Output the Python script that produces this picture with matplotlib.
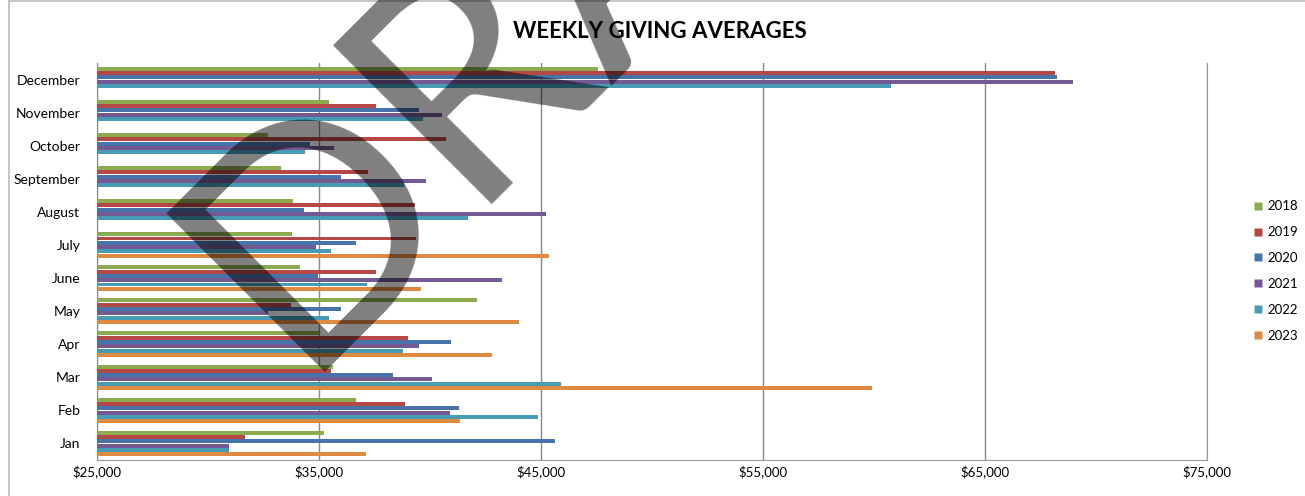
import numpy as np
import matplotlib
matplotlib.use("Agg")
import matplotlib.pyplot as plt
from matplotlib.ticker import FuncFormatter
from matplotlib.lines import Line2D

plt.rcParams['font.family'] = ['Lato', 'DejaVu Sans']

months = ["Jan", "Feb", "Mar", "Apr", "May", "June", "July",
          "August", "September", "October", "November", "December"]
years = ["2018", "2019", "2020", "2021", "2022", "2023"]
nan = np.nan

v2018 = [35210, 36680, 35650, 35000, 42120, 34160, 33770, 33840, 33280, 32720, 35470, 47580]
v2019 = [31650, 38890, 35540, 39000, 33730, 37560, 39390, 39320, 37220, 40740, 37560, 68160]
v2020 = [45640, 41300, 38350, 40940, 35970, 34940, 36660, 34330, 35970, 34590, 39520, 68240]
v2021 = [30930, 40890, 40100, 39490, 32700, 43240, 34850, 45220, 39820, 35670, 40550, 68970]
v2022 = [30940, 44870, 45920, 38790, 35470, 37150, 35520, 41730, 38830, 34380, 39670, 60770]
v2023 = [37130, 41340, 59900, 42810, 44030, 39600, 45340, nan, nan, nan, nan, nan]

xticks = [25000, 35000, 45000, 55000, 65000, 75000]
colors = ['#8CAA50', '#B54845', '#4673AA', '#735A93', '#469CB5', '#DF8A41']

W, H = 1305, 496
fig = plt.figure(figsize=(W / 100, H / 100), dpi=100)
ax = fig.add_axes([97 / W, 1 - 460 / H, (1207 - 97) / W, (460 - 63) / H])

y = np.arange(len(months))
slot = 0.13
series = [v2018, v2019, v2020, v2021, v2022, v2023]
for i, (vals, col, yr) in enumerate(zip(series, colors, years)):
    vals = np.array(vals, dtype=float)
    off = (2.5 - i) * slot
    ax.barh(y + off, vals - 25000, left=25000, height=slot * 0.92,
            color=col, label=yr, zorder=3)

ax.set_xlim(25000, 75000)
ax.set_ylim(-0.5, len(months) - 0.5)
ax.set_xticks(xticks)
ax.xaxis.set_major_formatter(FuncFormatter(lambda v, p: f"${v:,.0f}"))
ax.set_yticks(y)
ax.set_yticklabels(months)
ax.tick_params(axis='y', length=0, pad=12, labelsize=10)
ax.tick_params(axis='x', length=0, pad=4, labelsize=9.5)
ax.grid(axis='x', color='#888888', linewidth=1, zorder=0)
ax.spines['top'].set_visible(False)
ax.spines['right'].set_color('#999999')
ax.spines['bottom'].set_color('#999999')
ax.spines['left'].set_color('#888888')

fig.text(660 / W, 1 - 31 / H, "WEEKLY GIVING AVERAGES", ha='center', va='center',
         fontsize=16, fontweight='bold')

handles = [Line2D([0], [0], marker='s', linestyle='none', markersize=6,
                  markerfacecolor=c, markeredgecolor='none') for c in colors]
fig.legend(handles, years, loc='center left', bbox_to_anchor=(1253 / W, 1 - 271 / H),
           frameon=False, fontsize=9.5, handlelength=0.8, handletextpad=0.3,
           labelspacing=1.05, borderpad=0, borderaxespad=0)

# chart area border
fig.add_artist(Line2D([9 / W, 9 / W], [0, 1 - 1 / H], transform=fig.transFigure,
                      color='#BBBBBB', linewidth=1.2))
fig.add_artist(Line2D([9 / W, 1], [1 - 1 / H, 1 - 1 / H], transform=fig.transFigure,
                      color='#BBBBBB', linewidth=1.2))

# draft watermark
fig.text(296 / W, 1 - 372 / H, "DRAFT", rotation=45, rotation_mode='anchor',
         ha='left', va='baseline', fontsize=225, color='black', alpha=0.5, zorder=10)

fig.savefig("out.png", dpi=100)
